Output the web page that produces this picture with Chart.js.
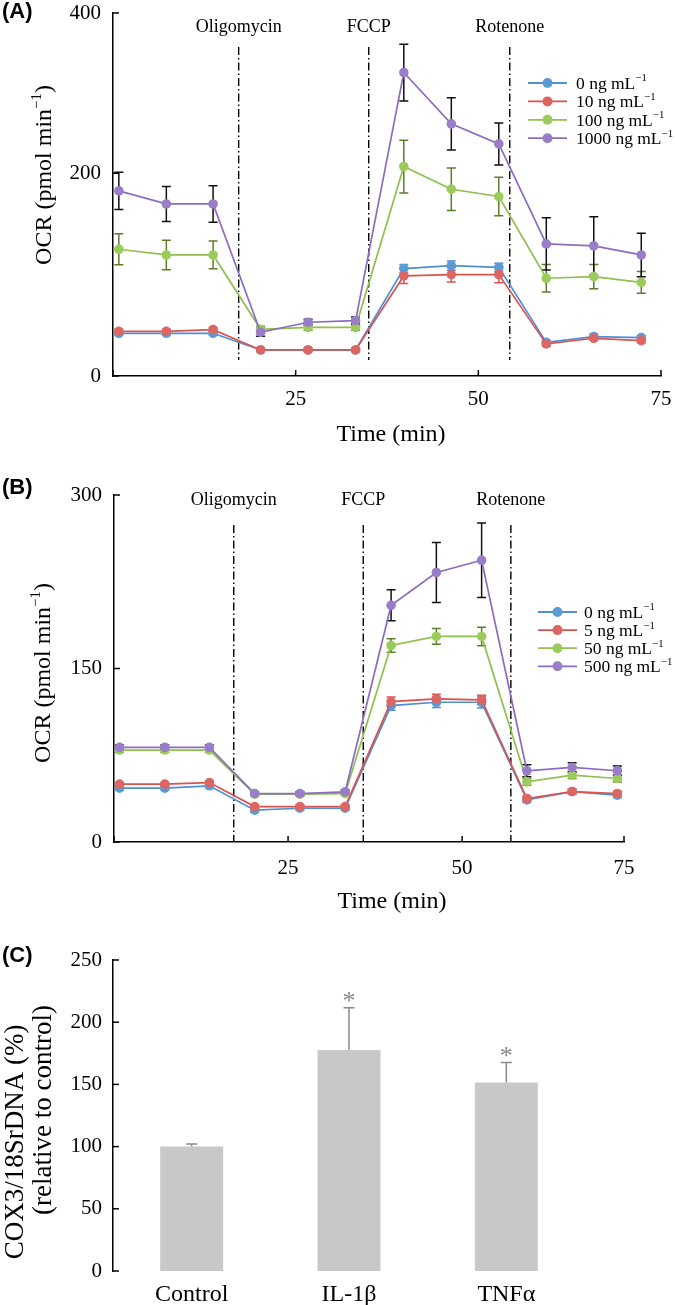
<!DOCTYPE html>
<html>
<head>
<meta charset="utf-8">
<script src="https://cdn.jsdelivr.net/npm/chart.js@4.4.1/dist/chart.umd.min.js"></script>
<style>
  html, body { margin: 0; padding: 0; background: #fff; }
  #wrap { position: relative; width: 675px; height: 1305px; overflow: hidden; }
  canvas { position: absolute; left: 0; }
</style>
</head>
<body>
<div id="wrap">
  <canvas id="chart-a" width="675" height="455" style="top:0px"></canvas>
  <canvas id="chart-b" width="675" height="455" style="top:470px"></canvas>
  <canvas id="chart-c" width="675" height="385" style="top:920px"></canvas>
</div>
<script>
// sampling times (min), same protocol in A and B
const times = [0.8, 7.3, 13.7, 20.2, 26.7, 33.2, 39.8, 46.3, 52.8, 59.3, 65.8, 72.3];

// Panel A - doses in ng/mL
const dosesA = [0, 10, 100, 1000];
const ocrA0 = [42.1, 42.1, 42.1, 25.7, 25.7, 25.7, 105.9, 108.9, 107.2, 33.2, 38.8, 37.8];
const errA0 = [2, 2, 2, 1.5, 1.5, 1.5, 4, 4.5, 4, 2, 2.5, 2];
const ocrA10 = [44.1, 44.1, 45.7, 25.7, 25.7, 25.7, 98.7, 100, 100, 31.6, 37.2, 34.9];
const errA10 = [2, 2, 2, 1.5, 1.5, 1.5, 7.5, 7.2, 8, 2, 2, 2];
const ocrA100 = [125, 119.4, 119.4, 46.1, 48, 48, 206.6, 184.2, 177, 96.4, 98, 92.4];
const errA100 = [15.3, 14.5, 13.7, 3, 3, 3, 26, 21, 19, 13.5, 12, 10.7];
const ocrA1000 = [182.6, 169.7, 169.7, 43.1, 53, 54.6, 299.3, 248.7, 228.9, 130.3, 128.3, 119.4];
const errA1000 = [18.4, 17.3, 18, 4, 3, 3.5, 28, 25.8, 20.7, 25.8, 28.8, 21.4];
const injectA = [17.2, 35.0, 54.3];
// the printed axis ends short of its "400" label, so the end tick is labelled as printed
const yTicksA = [0, 200, 358];
const yLabelsA = ['0', '200', '400'];
const xTicksA = [0, 25, 50, 75];
const xLabelsA = ['', '25', '50', '75'];

// Panel B
const dosesB = [0, 5, 50, 500];
const ocrB0 = [46.5, 46.5, 48.6, 27.5, 29.2, 29.2, 117.9, 120.8, 120.8, 36.4, 43.6, 40.5];
const errB0 = [1.5, 1.5, 1.5, 1.5, 1.5, 1.5, 4, 4.5, 5, 2, 2, 2];
const ocrB5 = [50, 50, 51.4, 30.6, 30.6, 30.6, 121.4, 123.7, 122.8, 37.6, 43.6, 41.9];
const errB5 = [1.5, 1.5, 1.5, 1.5, 1.5, 1.5, 4, 4, 4, 2, 2, 2];
const ocrB50 = [79.5, 79.5, 79.5, 41.3, 41.3, 41.9, 169.9, 177.7, 177.7, 52.0, 57.8, 54.9];
const errB50 = [2, 2, 2, 1.5, 1.5, 1.5, 5.8, 6.8, 8, 3, 3, 3];
const ocrB500 = [81.8, 81.8, 81.8, 41.9, 41.9, 43.4, 204.6, 233, 243.6, 61.6, 64.5, 61.6];
const errB500 = [2, 2, 2, 1.5, 1.5, 1.5, 13.4, 26, 32.2, 5.2, 4, 4.2];
const injectB = [17.2, 35.8, 57.0];
const yTicksB = [0, 150, 300];
const yLabelsB = ['0', '150', '300'];
const xTicksB = [0, 25, 50, 73.25];
const xLabelsB = ['', '25', '50', '75'];

const injectNames = ['Oligomycin', 'FCCP', 'Rotenone'];

// Panel C
const groupsC = ['Control', 'IL-1\u03b2', 'TNF\u03b1'];
const cox3 = [100, 177.6, 151.6];
const cox3Err = [2, 34, 16];
const sigC = ['', '*', '*'];
const yTicksC = [0, 50, 100, 150, 200, 250];

const SERIF = "'Liberation Serif', 'Times New Roman', serif";
const SANS = "'Liberation Sans', Arial, sans-serif";
Chart.defaults.font.family = SERIF;
Chart.defaults.color = '#000';
Chart.defaults.animation = false;

const COLORS = [
  { line: '#4f8fd2', pt: '#5b9bd5', err: '#4f8fd2' },
  { line: '#d9534f', pt: '#de6662', err: '#d9534f' },
  { line: '#8fc050', pt: '#9bcb5b', err: '#5e7d2a' },
  { line: '#8c6cc0', pt: '#9a7dc8', err: '#111111' }
];

function drawRich(ctx, parts, x, y, o) {
  const size = o.size, fam = o.fam || SERIF, weight = o.weight || 'normal';
  ctx.save();
  ctx.translate(x, y);
  ctx.rotate(o.rot || 0);
  ctx.fillStyle = o.color || '#000';
  ctx.textAlign = 'left';
  ctx.textBaseline = 'alphabetic';
  let w = 0;
  parts.forEach(p => {
    ctx.font = `${weight} ${p.sup ? size * 0.62 : size}px ${fam}`;
    w += ctx.measureText(p.t).width;
  });
  let cx = o.align === 'left' ? 0 : -w / 2;
  const base = size * 0.33;
  parts.forEach(p => {
    ctx.font = `${weight} ${p.sup ? size * 0.62 : size}px ${fam}`;
    ctx.fillText(p.t, cx, p.sup ? base - size * 0.42 : base);
    cx += ctx.measureText(p.t).width;
  });
  ctx.restore();
}

function makePanelPlugin(cfg) {
  return {
    id: 'panel',
    beforeDatasetsDraw(chart) {
      const ctx = chart.ctx, xs = chart.scales.x, ys = chart.scales.y, area = chart.chartArea;
      ctx.save();
      // injection lines
      if (cfg.inject) {
        ctx.strokeStyle = '#000';
        ctx.lineWidth = 1.4;
        ctx.setLineDash([8, 3, 1.5, 3]);
        cfg.inject.forEach(t => {
          const px = xs.getPixelForValue(t);
          ctx.beginPath();
          ctx.moveTo(px, area.top + cfg.lineTop);
          ctx.lineTo(px, area.bottom - cfg.lineBottom);
          ctx.stroke();
        });
        ctx.setLineDash([]);
      }
      // error bars
      chart.data.datasets.forEach((ds, i) => {
        const meta = chart.getDatasetMeta(i);
        ctx.strokeStyle = ds.errColor;
        ctx.lineWidth = cfg.errWidth;
        meta.data.forEach((el, j) => {
          const raw = ds.data[j];
          const v = typeof raw === 'object' ? raw.y : raw;
          const e = ds.errors[j];
          const top = ys.getPixelForValue(v + e);
          const bot = cfg.upOnly ? el.y : ys.getPixelForValue(v - e);
          ctx.beginPath();
          ctx.moveTo(el.x, top);
          ctx.lineTo(el.x, bot);
          ctx.moveTo(el.x - cfg.cap, top);
          ctx.lineTo(el.x + cfg.cap, top);
          if (!cfg.upOnly) {
            ctx.moveTo(el.x - cfg.cap, bot);
            ctx.lineTo(el.x + cfg.cap, bot);
          }
          ctx.stroke();
        });
      });
      ctx.restore();
    },
    afterDraw(chart) {
      const ctx = chart.ctx, xs = chart.scales.x, ys = chart.scales.y, area = chart.chartArea;
      ctx.save();
      // inward tick marks
      ctx.strokeStyle = '#000';
      ctx.lineWidth = 1.5;
      ys.ticks.forEach(t => {
        const py = ys.getPixelForValue(t.value);
        ctx.beginPath();
        ctx.moveTo(area.left, py);
        ctx.lineTo(area.left + 6, py);
        ctx.stroke();
      });
      if (cfg.xInner) {
        xs.ticks.forEach(t => {
          const px = xs.getPixelForValue(t.value);
          ctx.beginPath();
          ctx.moveTo(px, area.bottom);
          ctx.lineTo(px, area.bottom - 6);
          ctx.stroke();
        });
      }
      // injection labels
      if (cfg.inject) {
        cfg.inject.forEach((t, k) => {
          drawRich(ctx, [{ t: injectNames[k] }], xs.getPixelForValue(t), cfg.injectY, { size: 18 });
        });
      }
      // legend
      if (cfg.legend) {
        const L = cfg.legend;
        chart.data.datasets.forEach((ds, i) => {
          const y = L.y0 + i * L.dy;
          ctx.strokeStyle = ds.borderColor;
          ctx.lineWidth = 1.8;
          ctx.beginPath();
          ctx.moveTo(L.x0, y);
          ctx.lineTo(L.x1, y);
          ctx.stroke();
          ctx.fillStyle = ds.pointBackgroundColor;
          ctx.beginPath();
          ctx.arc((L.x0 + L.x1) / 2, y, 5, 0, Math.PI * 2);
          ctx.fill();
          drawRich(ctx, [{ t: ds.legendText }, { t: '\u22121', sup: true }], L.tx, y, { size: 17.5, align: 'left' });
        });
      }
      // significance marks
      if (cfg.sig) {
        const meta = chart.getDatasetMeta(0);
        const ds = chart.data.datasets[0];
        ctx.fillStyle = '#8a8a8a';
        ctx.font = `26px ${SERIF}`;
        ctx.textAlign = 'center';
        ctx.textBaseline = 'alphabetic';
        meta.data.forEach((el, j) => {
          if (!cfg.sig[j]) return;
          const top = ys.getPixelForValue(ds.data[j] + ds.errors[j]);
          ctx.fillText(cfg.sig[j], el.x, top + 1);
        });
      }
      // free texts
      cfg.texts.forEach(tx => drawRich(ctx, tx.parts, tx.x, tx.y, tx));
      ctx.restore();
    }
  };
}

function lineSets(doses, series, errs) {
  return series.map((vals, i) => ({
    label: `${doses[i]} ng mL\u207b\u00b9`,
    legendText: `${doses[i]} ng mL`,
    data: times.map((t, j) => ({ x: t, y: vals[j] })),
    errors: errs[i],
    errColor: COLORS[i].err,
    borderColor: COLORS[i].line,
    backgroundColor: COLORS[i].pt,
    pointBackgroundColor: COLORS[i].pt,
    pointBorderColor: COLORS[i].pt,
    pointBorderWidth: 0,
    pointRadius: 4.8,
    pointHoverRadius: 4.8,
    borderWidth: 1.7,
    tension: 0,
    fill: false,
    clip: false,
    order: series.length - 1 - i
  }));
}

// fixed-size axis box, without the extra edge padding Chart.js reserves for end labels
function fixBox(size, horizontal) {
  return s => {
    if (horizontal) s.height = size; else s.width = size;
    s.paddingTop = s.paddingBottom = s.paddingLeft = s.paddingRight = 0;
  };
}

function axis(ticksArr, labels, opts) {
  return Object.assign({
    type: 'linear',
    min: ticksArr[0],
    max: ticksArr[ticksArr.length - 1],
    afterBuildTicks: s => { s.ticks = ticksArr.map(v => ({ value: v })); },
    ticks: { callback: (v, i) => labels[i], autoSkip: false, maxRotation: 0, font: { size: 21 } },
    grid: { display: false, drawTicks: false },
    border: { color: '#000', width: 1.5 }
  }, opts);
}

function ocrChart(id, doses, series, errs, yT, yL, xT, xL, cfg) {
  const xAxis = axis(xT, xL, { afterFit: fixBox(40, true) });
  xAxis.ticks.padding = cfg.xPad;
  const yAxis = axis(yT, yL, { afterFit: fixBox(cfg.left, false) });
  yAxis.ticks.padding = 12;
  new Chart(document.getElementById(id), {
    type: 'line',
    data: { datasets: lineSets(doses, series, errs) },
    options: {
      responsive: false,
      layout: { padding: cfg.padding, autoPadding: false },
      plugins: { legend: { display: false }, tooltip: { enabled: false } },
      scales: { x: xAxis, y: yAxis }
    },
    plugins: [makePanelPlugin(cfg)]
  });
}

const ocrTitle = [{ t: 'OCR (pmol min' }, { t: '\u22121', sup: true }, { t: ')' }];

ocrChart('chart-a', dosesA, [ocrA0, ocrA10, ocrA100, ocrA1000], [errA0, errA10, errA100, errA1000],
  yTicksA, yLabelsA, xTicksA, xLabelsA, {
    left: 113, xPad: 11,
    padding: { left: 0, top: 13, right: 14, bottom: 455 - 376 - 40 },
    inject: injectA, lineTop: 34, lineBottom: 16, injectY: 26,
    errWidth: 1.5, cap: 4.5, xInner: true,
    legend: { x0: 528, x1: 567, tx: 576, y0: 83, dy: 18.4 },
    texts: [
      { parts: [{ t: '(A)' }], x: 2, y: 11, size: 22, fam: SANS, weight: 'bold', align: 'left' },
      { parts: [{ t: 'Time (min)' }], x: 391, y: 433, size: 24 },
      { parts: ocrTitle, x: 43, y: 175, size: 24, rot: -Math.PI / 2 }
    ]
  });

ocrChart('chart-b', dosesB, [ocrB0, ocrB5, ocrB50, ocrB500], [errB0, errB5, errB50, errB500],
  yTicksB, yLabelsB, xTicksB, xLabelsB, {
    left: 114, xPad: 14,
    padding: { left: 0, top: 25, right: 675 - 624, bottom: 455 - 372 - 40 },
    inject: injectB, lineTop: 30, lineBottom: 0, injectY: 29,
    errWidth: 1.5, cap: 4.5, xInner: true,
    legend: { x0: 538, x1: 577, tx: 584, y0: 142, dy: 18.1 },
    texts: [
      { parts: [{ t: '(B)' }], x: 2, y: 17, size: 22, fam: SANS, weight: 'bold', align: 'left' },
      { parts: [{ t: 'Time (min)' }], x: 392, y: 430, size: 24 },
      { parts: ocrTitle, x: 42, y: 203, size: 24, rot: -Math.PI / 2 }
    ]
  });

const yAxisC = axis(yTicksC, yTicksC.map(String), { afterFit: fixBox(113, false) });
yAxisC.ticks.padding = 11;
new Chart(document.getElementById('chart-c'), {
  type: 'bar',
  data: {
    labels: groupsC,
    datasets: [{
      label: 'COX3/18SrDNA',
      data: cox3,
      errors: cox3Err,
      errColor: '#8a8a8a',
      backgroundColor: '#c8c8c8',
      borderWidth: 0,
      categoryPercentage: 1,
      barPercentage: 0.4
    }]
  },
  options: {
    responsive: false,
    layout: { padding: { left: 0, top: 40, right: 675 - 585, bottom: 0 }, autoPadding: false },
    plugins: { legend: { display: false }, tooltip: { enabled: false } },
    scales: {
      x: {
        grid: { display: false, drawTicks: false },
        border: { display: false },
        ticks: { font: { size: 24 }, padding: 9 },
        afterFit: fixBox(385 - 351, true)
      },
      y: yAxisC
    }
  },
  plugins: [makePanelPlugin({
    upOnly: true, errWidth: 1.5, cap: 5.5, xInner: false, sig: sigC,
    texts: [
      { parts: [{ t: '(C)' }], x: 2, y: 35, size: 22, fam: SANS, weight: 'bold', align: 'left' },
      { parts: [{ t: 'COX3/18SrDNA (%)' }], x: 14, y: 222, size: 27, rot: -Math.PI / 2 },
      { parts: [{ t: '(relative to control)' }], x: 42, y: 190, size: 27, rot: -Math.PI / 2 }
    ]
  })]
});
</script>
</body>
</html>
